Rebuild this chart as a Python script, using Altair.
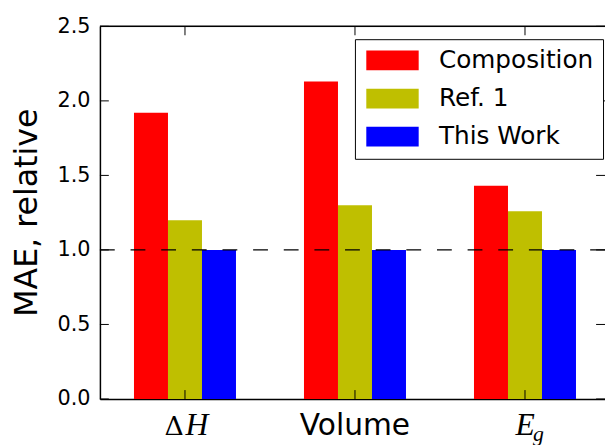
import altair as alt
import pandas as pd

categories = ["ΔH", "Volume", "Eg"]
series = ["Composition", "Ref. 1", "This Work"]
composition = [1.92, 2.13, 1.43]
ref1 = [1.20, 1.30, 1.26]
this_work = [1.00, 1.00, 1.00]
colors = ["#ff0000", "#bfbf00", "#0000ff"]
y_ticks = [0.0, 0.5, 1.0, 1.5, 2.0, 2.5]
baseline_value = 1.0

W, H = 511, 377

rows = []
for s, vals in zip(series, [composition, ref1, this_work]):
    for c, v in zip(categories, vals):
        rows.append({"category": c, "series": s, "value": v})
df = pd.DataFrame(rows)
cat_df = pd.DataFrame({"category": categories})
tick_df = pd.DataFrame({"t": y_ticks})

xscale = alt.Scale(domain=categories, paddingInner=0.4, paddingOuter=0.1855, align=0.54)
yscale = alt.Scale(domain=[0, 2.5], nice=False, zero=True)

X = alt.X("category:N", scale=xscale, sort=categories,
          axis=alt.Axis(title=None, labels=False, ticks=False, domain=True,
                        domainColor="black", domainWidth=1.5))
Y_axis = alt.Axis(values=y_ticks, format=".1f", title="MAE, relative", grid=False,
                  ticks=False, domain=True, domainColor="black", domainWidth=1.5,
                  labelFont="DejaVu Sans", labelFontSize=21, labelColor="black",
                  labelPadding=10, titleFont="DejaVu Sans", titleFontSize=32,
                  titleFontWeight="normal", titleColor="black", titleAngle=-90,
                  titleX=-64, titleY=188, titleBaseline="alphabetic", titleAlign="center")

bars = alt.Chart(df).mark_bar(opacity=1, strokeWidth=0).encode(
    x=X,
    xOffset=alt.XOffset("series:N", sort=series, scale=alt.Scale(paddingInner=0, paddingOuter=0)),
    y=alt.Y("value:Q", scale=yscale, axis=Y_axis),
    color=alt.Color("series:N", sort=series,
                    scale=alt.Scale(domain=series, range=colors),
                    legend=alt.Legend(title=None, orient="none", legendX=258, legendY=13,
                                      direction="vertical", fillColor="white",
                                      strokeColor="black", padding=9,
                                      symbolType="M-2.65,-1H2.65V1H-2.65Z",
                                      symbolSize=400, symbolStrokeWidth=0,
                                      symbolOffset=16.5,
                                      symbolOpacity=1, labelFontSize=25,
                                      labelFont="DejaVu Sans", labelColor="black",
                                      labelOffset=34.5, rowPadding=12.5, cornerRadius=0)),
)

dash = alt.Chart(pd.DataFrame({"y": [baseline_value]})).mark_rule(
    color="black", strokeWidth=1.3, strokeDash=[15, 16]
).encode(y=alt.Y("y:Q", scale=yscale), x=alt.value(0), x2=alt.value(W))

top_spine = alt.Chart(cat_df.head(1)).mark_rule(color="black", strokeWidth=1.5).encode(
    x=alt.value(0), x2=alt.value(W), y=alt.value(0))

left_ticks = alt.Chart(tick_df).mark_rule(color="black", strokeWidth=1).encode(
    y=alt.Y("t:Q", scale=yscale), x=alt.value(0), x2=alt.value(9))
right_ticks = alt.Chart(tick_df).mark_rule(color="black", strokeWidth=1).encode(
    y=alt.Y("t:Q", scale=yscale), x=alt.value(W - 9), x2=alt.value(W))
bottom_ticks = alt.Chart(cat_df).mark_rule(color="black", strokeWidth=1).encode(
    x=alt.X("category:N", scale=xscale, sort=categories), y=alt.value(H - 9), y2=alt.value(H))
top_ticks = alt.Chart(cat_df).mark_rule(color="black", strokeWidth=1).encode(
    x=alt.X("category:N", scale=xscale, sort=categories), y=alt.value(0), y2=alt.value(9))

lab_y = H + 36
volume_lab = alt.Chart(cat_df).transform_filter(alt.datum.category == "Volume").mark_text(
    font="DejaVu Sans", fontSize=30, baseline="alphabetic", align="center", color="black"
).encode(x=alt.X("category:N", scale=xscale, sort=categories), y=alt.value(lab_y),
         text="category:N")
delta_lab = alt.Chart(cat_df).transform_filter(alt.datum.category == "ΔH").mark_text(
    font="DejaVu Serif", fontSize=27, baseline="alphabetic", align="center", color="black", dx=-11
).encode(x=alt.X("category:N", scale=xscale, sort=categories), y=alt.value(lab_y),
         text=alt.value("Δ"))
h_lab = alt.Chart(cat_df).transform_filter(alt.datum.category == "ΔH").mark_text(
    font="Liberation Serif", fontSize=32, fontStyle="italic", baseline="alphabetic",
    align="center", color="black", dx=12
).encode(x=alt.X("category:N", scale=xscale, sort=categories), y=alt.value(lab_y),
         text=alt.value("H"))
e_lab = alt.Chart(cat_df).transform_filter(alt.datum.category == "Eg").mark_text(
    font="Liberation Serif", fontSize=32, fontStyle="italic", baseline="alphabetic",
    align="right", color="black", dx=10
).encode(x=alt.X("category:N", scale=xscale, sort=categories), y=alt.value(lab_y),
         text=alt.value("E"))
g_lab = alt.Chart(cat_df).transform_filter(alt.datum.category == "Eg").mark_text(
    font="Liberation Serif", fontSize=22, fontStyle="italic", baseline="alphabetic",
    align="left", color="black", dx=8, dy=6
).encode(x=alt.X("category:N", scale=xscale, sort=categories), y=alt.value(lab_y),
         text=alt.value("g"))

chart = alt.layer(
    bars, dash, top_spine, left_ticks, right_ticks, bottom_ticks, top_ticks,
    volume_lab, delta_lab, h_lab, e_lab, g_lab
).properties(
    width=W, height=H,
    autosize=alt.AutoSizeParams(type="none"),
    padding={"left": 93, "top": 16, "right": 0, "bottom": 46},
).configure_view(stroke=None).configure(background="white")

chart.save("out.html", embed_options={"renderer": "svg", "actions": False})
